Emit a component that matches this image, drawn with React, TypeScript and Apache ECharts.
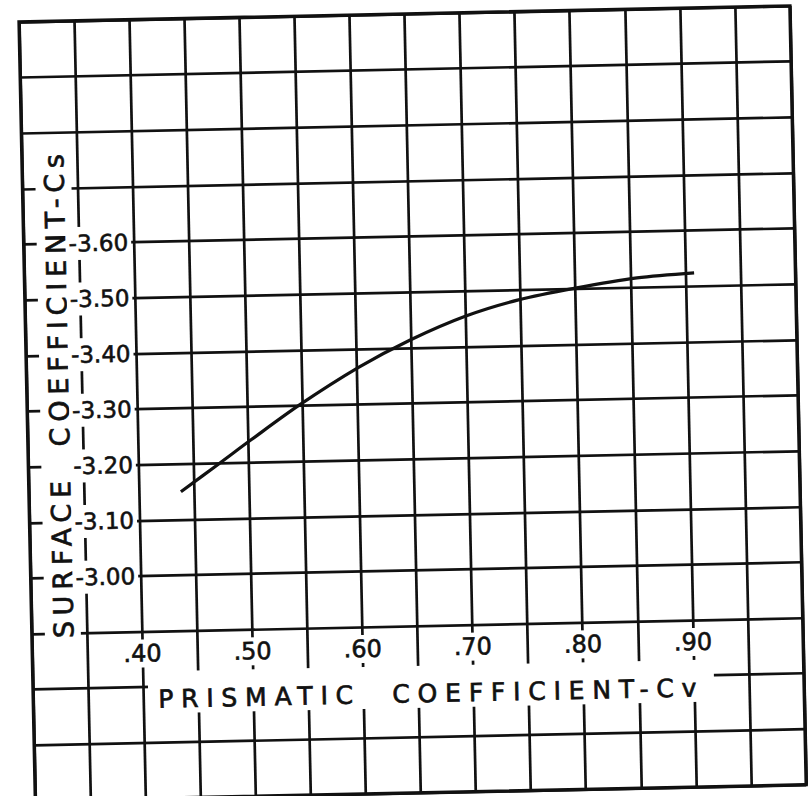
import React, { useEffect, useRef } from "react";
import * as echarts from "echarts";

// Curve (prismatic coefficient Cv -> surface coefficient Cs)
const prismatic = [0.438, 0.4725, 0.503, 0.547, 0.602, 0.649, 0.7, 0.748, 0.8, 0.856, 0.908];
const surface = [3.15, 3.198, 3.241, 3.301, 3.367, 3.414, 3.455, 3.482, 3.501, 3.517, 3.524];

// Tick labels that are lettered on the sheet
const xTickValues = [0.4, 0.5, 0.6, 0.7, 0.8, 0.9];
const xTickLabels = [".40", ".50", ".60", ".70", ".80", ".90"];
const yTickValues = [3.0, 3.1, 3.2, 3.3, 3.4, 3.5, 3.6];
const yTickLabels = ["-3.00", "-3.10", "-3.20", "-3.30", "-3.40", "-3.50", "-3.60"];

// Axis extents of the grid paper
const X_MIN = 0.3;
const X_MAX = 1.0;
const X_STEP = 0.05;
const Y_MIN = 2.6;
const Y_MAX = 4.0;
const Y_STEP = 0.1;

const X_TITLE = "PRISMATIC  COEFFICIENT-Cv";
const Y_TITLE = "SURFACE  COEFFICIENT-Cs";

const INK = "#111";
const GRID = { left: 27, top: 14, width: 771, height: 779 };

const css = `
html, body { margin: 0; overflow: hidden; background: #fff; }
text[style*="lsY"] { letter-spacing: 5.8px; }
text[style*="lsX"] { letter-spacing: 7.8px; }
`;

function pick(values: number[], labels: string[]) {
  return (v: number) => {
    const i = values.findIndex((t) => Math.abs(t - v) < 1e-6);
    return i >= 0 ? labels[i] : "";
  };
}

export default function App() {
  const ref = useRef<HTMLDivElement>(null);
  useEffect(() => {
    const chart = echarts.init(ref.current!, null, { renderer: "svg" });
    const labelStyle = {
      color: INK,
      fontSize: 24,
      fontFamily: "DejaVu Sans",
      textBorderColor: INK,
      textBorderWidth: 0.6,
      backgroundColor: "#fff",
    };
    const option: any = {
      animation: false,
      backgroundColor: "#fff",
      grid: {
        ...GRID,
        show: true,
        borderColor: INK,
        borderWidth: 3.4,
        backgroundColor: "transparent",
      },
      xAxis: [
        {
          type: "value",
          min: X_MIN,
          max: X_MAX,
          interval: X_STEP,
          axisLine: { show: false },
          axisTick: { show: false },
          axisLabel: { show: false },
          splitLine: { show: true, lineStyle: { color: INK, width: 2.7 } },
          z: 0,
        },
        {
          type: "value",
          min: X_MIN,
          max: X_MAX,
          interval: X_STEP,
          position: "bottom",
          axisLine: { show: false },
          axisTick: { show: false },
          splitLine: { show: false },
          axisLabel: {
            show: true,
            inside: true,
            customValues: xTickValues,
            formatter: pick(xTickValues, xTickLabels),
            margin: 145,
            verticalAlign: "middle",
            align: "center",
            padding: [2, 3],
            ...labelStyle,
          },
          z: 10,
        },
      ],
      yAxis: [
        {
          type: "value",
          min: Y_MIN,
          max: Y_MAX,
          interval: Y_STEP,
          axisLine: { show: false },
          axisTick: { show: false },
          axisLabel: { show: false },
          splitLine: { show: true, lineStyle: { color: INK, width: 2.7 } },
          z: 0,
        },
        {
          type: "value",
          min: Y_MIN,
          max: Y_MAX,
          interval: Y_STEP,
          position: "left",
          axisLine: { show: false },
          axisTick: { show: false },
          splitLine: { show: false },
          axisLabel: {
            show: true,
            inside: true,
            customValues: yTickValues,
            formatter: pick(yTickValues, yTickLabels),
            margin: 42,
            align: "left",
            verticalAlign: "middle",
            padding: [5, 3],
            ...labelStyle,
            fontSize: 23,
          },
          z: 10,
        },
      ],
      graphic: [
        {
          type: "rect",
          z: 3,
          shape: { x: 40, y: 128, width: 36, height: 518 },
          style: { fill: "#fff" },
        },
        {
          type: "rect",
          z: 3,
          shape: { x: 142, y: 666, width: 566, height: 42 },
          style: { fill: "#fff" },
        },
        {
          type: "text",
          z: 6,
          x: 59,
          y: 386,
          rotation: Math.PI / 2,
          style: {
            text: Y_TITLE,
            fill: INK,
            stroke: INK,
            lineWidth: 0.7,
            font: "27px DejaVu Sans, lsY",
            align: "center",
            verticalAlign: "middle",
          },
        },
        {
          type: "text",
          z: 6,
          x: 425,
          y: 694,
          style: {
            text: X_TITLE,
            fill: INK,
            stroke: INK,
            lineWidth: 0.7,
            font: "25px DejaVu Sans, lsX",
            align: "center",
            verticalAlign: "middle",
          },
        },
      ],
      series: [
        {
          type: "line",
          xAxisIndex: 0,
          yAxisIndex: 0,
          data: prismatic.map((x, i) => [x, surface[i]]),
          showSymbol: false,
          symbol: "none",
          smooth: 0.3,
          lineStyle: { color: INK, width: 3.2 },
          z: 8,
        },
      ],
    };
    chart.setOption(option);
    return () => chart.dispose();
  }, []);

  return (
    <>
      <style>{css}</style>
      <div
        ref={ref}
        style={{
          position: "absolute",
          left: 0,
          top: 0,
          width: 812,
          height: 796,
          transform: "rotate(-1.2deg)",
          background: "#fff",
        }}
      />
    </>
  );
}
